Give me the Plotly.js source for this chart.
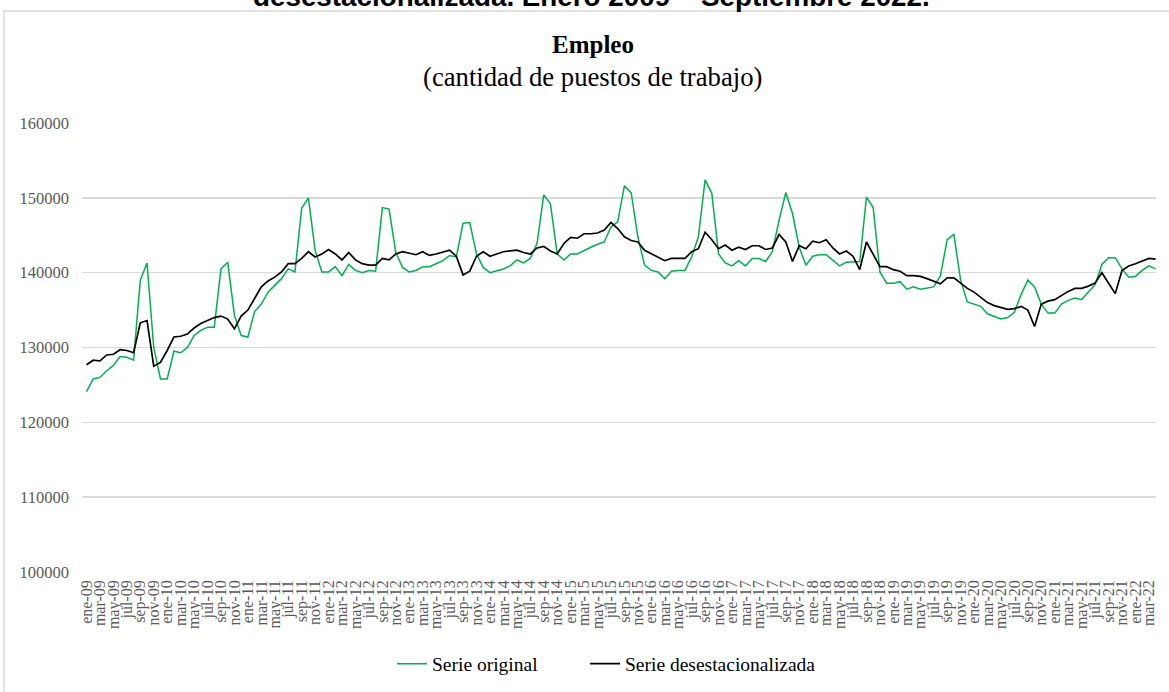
<!DOCTYPE html>
<html>
<head>
<meta charset="utf-8">
<script src="https://cdn.plot.ly/plotly-3.0.1.min.js"></script>
<style>
html,body{margin:0;padding:0;background:#fff;}
#chart{width:1169px;height:692px;}
</style>
</head>
<body>
<div id="chart"></div>
<script>
// Months: ene-09 .. abr-22
const months = [
'ene-09','feb-09','mar-09','abr-09','may-09','jun-09','jul-09','ago-09','sep-09','oct-09','nov-09','dic-09',
'ene-10','feb-10','mar-10','abr-10','may-10','jun-10','jul-10','ago-10','sep-10','oct-10','nov-10','dic-10',
'ene-11','feb-11','mar-11','abr-11','may-11','jun-11','jul-11','ago-11','sep-11','oct-11','nov-11','dic-11',
'ene-12','feb-12','mar-12','abr-12','may-12','jun-12','jul-12','ago-12','sep-12','oct-12','nov-12','dic-12',
'ene-13','feb-13','mar-13','abr-13','may-13','jun-13','jul-13','ago-13','sep-13','oct-13','nov-13','dic-13',
'ene-14','feb-14','mar-14','abr-14','may-14','jun-14','jul-14','ago-14','sep-14','oct-14','nov-14','dic-14',
'ene-15','feb-15','mar-15','abr-15','may-15','jun-15','jul-15','ago-15','sep-15','oct-15','nov-15','dic-15',
'ene-16','feb-16','mar-16','abr-16','may-16','jun-16','jul-16','ago-16','sep-16','oct-16','nov-16','dic-16',
'ene-17','feb-17','mar-17','abr-17','may-17','jun-17','jul-17','ago-17','sep-17','oct-17','nov-17','dic-17',
'ene-18','feb-18','mar-18','abr-18','may-18','jun-18','jul-18','ago-18','sep-18','oct-18','nov-18','dic-18',
'ene-19','feb-19','mar-19','abr-19','may-19','jun-19','jul-19','ago-19','sep-19','oct-19','nov-19','dic-19',
'ene-20','feb-20','mar-20','abr-20','may-20','jun-20','jul-20','ago-20','sep-20','oct-20','nov-20','dic-20',
'ene-21','feb-21','mar-21','abr-21','may-21','jun-21','jul-21','ago-21','sep-21','oct-21','nov-21','dic-21',
'ene-22','feb-22','mar-22','abr-22'
];

const serieOriginal = [
124100,125800,126000,126900,127600,128800,128700,128300,139000,141300,130000,125800,
125800,129500,129300,130000,131600,132300,132700,132700,140500,141400,134300,131600,
131400,134800,135800,137400,138300,139200,140500,140100,148600,150000,143000,140100,
140100,140800,139600,141100,140300,140000,140300,140200,148700,148500,142700,140700,
140100,140300,140800,140800,141200,141600,142300,142100,146600,146700,142500,140700,
140000,140200,140500,140900,141700,141300,141900,143900,150400,149200,142500,141700,
142500,142500,143000,143400,143800,144100,146100,146800,151600,150700,144800,141000,
140300,140100,139200,140200,140300,140300,142100,144800,152400,150600,142500,141300,
140900,141600,140900,141900,141900,141500,142800,147000,150700,147900,143400,141000,
142200,142400,142400,141700,140900,141400,141400,141500,150100,148700,140100,138600,
138600,138800,137800,138100,137800,137900,138100,139600,144400,145100,139000,136100,
135800,135500,134500,134200,133800,134000,134700,137100,139000,138100,135800,134600,
134600,135800,136300,136600,136400,137400,138400,141100,142000,142000,140500,139400,
139500,140300,140900,140500
];

const serieDesest = [
127700,128300,128200,129000,129100,129700,129600,129300,133300,133600,127500,128000,
129600,131400,131500,131800,132600,133200,133600,134000,134200,133800,132500,134200,
135000,136500,138100,138900,139400,140100,141200,141200,141900,142800,142100,142500,
143100,142500,141700,142700,141700,141200,141000,141000,141900,141700,142500,142800,
142600,142400,142800,142300,142500,142800,143000,142200,139700,140200,142200,142800,
142200,142500,142800,142900,143000,142700,142500,143300,143500,142900,142500,143900,
144700,144600,145200,145200,145300,145700,146700,145900,144800,144300,144100,143000,
142500,142100,141600,141900,141900,141900,142800,143200,145400,144400,143200,143700,
143000,143400,143100,143600,143600,143100,143300,145100,144100,141500,143600,143200,
144200,144000,144400,143300,142500,142900,142200,140400,144100,142400,140800,140800,
140400,140200,139600,139600,139500,139200,138800,138500,139300,139300,138600,137900,
137400,136700,136000,135600,135400,135100,135200,135500,135000,132800,135800,136200,
136400,137000,137500,137900,137900,138200,138600,140000,138600,137200,140300,140900,
141200,141500,141900,141800
];

const yTicks = [100000,110000,120000,130000,140000,150000,160000];
const xTickLabels = months.filter((m, i) => i % 2 === 0);

const serif = 'Liberation Serif, Times New Roman, serif';

// plot area geometry (px)
const L = 82, R = 13, T = 123, B = 120, W = 1169 - L - R, H = 692 - T - B;
const px2x = p => (p - L) / W;
const py2y = p => (T + H - p) / H;

const traces = [
  {x: months, y: serieOriginal, type: 'scatter', mode: 'lines', name: 'Serie original',
   line: {color: '#00b050', width: 1.5}, legend: 'legend'},
  {x: months, y: serieDesest, type: 'scatter', mode: 'lines', name: 'Serie desestacionalizada',
   line: {color: '#000000', width: 1.7}, legend: 'legend2'}
];

const legendFont = {family: serif, size: 19.5, color: '#000'};

const layout = {
  width: 1169, height: 692,
  margin: {l: L, r: R, t: T, b: B, pad: 0, autoexpand: false},
  paper_bgcolor: '#ffffff', plot_bgcolor: '#ffffff',
  showlegend: true,
  title: {text: '<b>Empleo</b>', font: {family: serif, size: 25, color: '#000'},
          xref: 'paper', x: px2x(593), xanchor: 'center',
          yref: 'container', y: 1 - 44/692, yanchor: 'middle'},
  xaxis: {
    type: 'category', range: [-0.67, 159.06],
    tickmode: 'array', tickvals: xTickLabels, ticktext: xTickLabels,
    tickangle: -90, ticks: '', showgrid: false, zeroline: false,
    showline: false, automargin: false,
    tickfont: {family: serif, size: 16, color: '#595959'},
    ticklabelstandoff: 4, fixedrange: true
  },
  yaxis: {
    range: [100000, 160000], tickmode: 'array', tickvals: yTicks,
    ticktext: yTicks.map(String),
    showgrid: true, gridcolor: '#d9d9d9', gridwidth: 1.5, zeroline: false,
    showline: false, ticks: '', automargin: false,
    tickfont: {family: serif, size: 16.5, color: '#595959'},
    ticklabelstandoff: 12, fixedrange: true
  },
  legend: {orientation: 'h', x: px2x(392), xanchor: 'left', y: py2y(664), yanchor: 'middle',
           font: legendFont, bgcolor: 'rgba(0,0,0,0)'},
  legend2: {orientation: 'h', x: px2x(585), xanchor: 'left', y: py2y(664), yanchor: 'middle',
           font: legendFont, bgcolor: 'rgba(0,0,0,0)'},
  annotations: [
    {text: '(cantidad de puestos de trabajo)', showarrow: false,
     xref: 'paper', x: px2x(592), xanchor: 'center',
     yref: 'paper', y: py2y(77), yanchor: 'middle',
     font: {family: serif, size: 26.7, color: '#000'}},
    {text: '<b>desestacionalizada. Enero 2009 – Septiembre 2022.</b>', showarrow: false,
     xref: 'paper', x: px2x(591), xanchor: 'center',
     yref: 'paper', y: py2y(-3.5), yanchor: 'middle',
     font: {family: 'Liberation Sans, Arial, sans-serif', size: 27.8, color: '#000'}}
  ],
  shapes: [
    {type: 'rect', xref: 'paper', yref: 'paper', layer: 'below',
     x0: px2x(4), x1: px2x(1182), y0: py2y(11), y1: py2y(700),
     line: {color: '#d9d9d9', width: 1.5}, fillcolor: 'rgba(0,0,0,0)'}
  ]
};

Plotly.newPlot('chart', traces, layout, {displayModeBar: false, staticPlot: true});
</script>
</body>
</html>
